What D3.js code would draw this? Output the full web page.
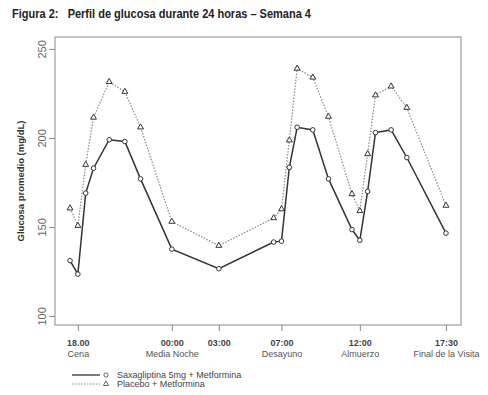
<!DOCTYPE html>
<html>
<head>
<meta charset="utf-8">
<title>Perfil de glucosa durante 24 horas</title>
<style>
  body { margin: 0; background: #fff; }
  svg text { font-family: "Liberation Sans", Arial, sans-serif; }
</style>
</head>
<body>
<script src="https://d3js.org/d3.v7.min.js"></script>
<div id="chart"></div>
<script>
// hours after 18:00
var hours = [-0.5, 0, 0.5, 1, 2, 3, 4, 6, 9, 12.5, 13, 13.5, 14, 15, 16, 17.5, 18, 18.5, 19, 20, 21, 23.5];
var saxa = [131, 123.5, 169, 183, 199, 198, 177, 137.5, 126.5, 141.5, 142, 183.5, 206, 204.5, 177, 148.5, 142.5, 170, 203, 204.5, 189, 146.5];
var placebo = [160.5, 150.7, 185, 211.5, 231.5, 226, 206, 153, 139.5, 155, 160, 198.7, 239, 234, 212, 168.5, 159, 191, 224, 229, 217, 162];

var tickHours = [0, 6, 9, 13, 18, 23.5];
var tickTimes = ["18.00", "00:00", "03:00", "07:00", "12:00", "17:30"];
var tickNames = ["Cena", "Media Noche", "", "Desayuno", "Almuerzo", "Final de la Visita"];
var yTicks = [100, 150, 200, 250];

var seriesNames = ["Saxagliptina 5mg + Metformina", "Placebo + Metformina"];

var width = 488, height = 395;
var box = {left: 55, right: 461, top: 37, bottom: 325};

var svg = d3.select("#chart").append("svg")
  .attr("width", width)
  .attr("height", height);

// title (narrow bold font in the original, so squeeze it)
svg.append("text")
  .attr("x", 12).attr("y", 18)
  .style("font-weight", "bold")
  .style("font-size", "13px")
  .attr("fill", "#222")
  .attr("xml:space", "preserve")
  .attr("textLength", 299)
  .attr("lengthAdjust", "spacingAndGlyphs")
  .text("Figura 2:   Perfil de glucosa durante 24 horas \u2013 Semana 4");

// R style: 4% padding around the data range
var x = d3.scaleLinear().domain([-1.46, 24.46]).range([box.left, box.right]);
var y = d3.scaleLinear().domain([94.9, 256.7]).range([box.bottom, box.top]);

svg.append("rect")
  .attr("x", box.left).attr("y", box.top)
  .attr("width", box.right - box.left).attr("height", box.bottom - box.top)
  .attr("fill", "none").attr("stroke", "#8a8a8a").attr("stroke-width", 1);

// y axis
var yAxis = svg.append("g")
  .attr("transform", "translate(" + box.left + ",0)")
  .call(d3.axisLeft(y).tickValues(yTicks).tickSize(6).tickPadding(0).tickFormat(d3.format("d")));
yAxis.select(".domain").remove();
yAxis.selectAll("line").attr("stroke", "#8a8a8a");
yAxis.selectAll("text").remove();
yAxis.selectAll(".tick").append("text")
  .attr("transform", "translate(-13,0) rotate(-90)")
  .attr("text-anchor", "middle")
  .attr("dy", "0.35em")
  .attr("fill", "#666")
  .style("font-size", "11px")
  .text(function(d) { return d; });

svg.append("text")
  .attr("transform", "translate(24," + ((box.top + box.bottom) / 2) + ") rotate(-90)")
  .attr("text-anchor", "middle")
  .attr("fill", "#333")
  .style("font-size", "9.5px")
  .style("font-weight", "bold")
  .text("Glucosa promedio (mg/dL)");

// x axis
var xAxis = svg.append("g")
  .attr("transform", "translate(0," + box.bottom + ")")
  .call(d3.axisBottom(x).tickValues(tickHours).tickSize(6).tickFormat(""));
xAxis.select(".domain").remove();
xAxis.selectAll("line").attr("stroke", "#8a8a8a");
xAxis.selectAll(".tick").each(function(d, i) {
  var t = d3.select(this);
  t.append("text").attr("y", 21).attr("text-anchor", "middle")
    .attr("fill", "#444").style("font-size", "9px").style("font-weight", "bold")
    .text(tickTimes[i]);
  t.append("text").attr("y", 32).attr("text-anchor", "middle")
    .attr("fill", "#555").style("font-size", "9px")
    .text(tickNames[i]);
});

// lines
var line = function(vals) {
  return d3.line().x(function(d, i) { return x(hours[i]); }).y(function(d) { return y(d); })(vals);
};

svg.append("path").attr("d", line(placebo))
  .attr("fill", "none").attr("stroke", "#888").attr("stroke-width", 1.2)
  .attr("stroke-dasharray", "1.5,1.5");
svg.append("path").attr("d", line(saxa))
  .attr("fill", "none").attr("stroke", "#333").attr("stroke-width", 1.5);

var tri = d3.symbol().type(d3.symbolTriangle).size(15);

svg.selectAll(".tri").data(placebo).enter().append("path")
  .attr("transform", function(d, i) { return "translate(" + x(hours[i]) + "," + y(d) + ")"; })
  .attr("d", tri)
  .attr("fill", "#fff").attr("stroke", "#333").attr("stroke-width", 1);

svg.selectAll(".circ").data(saxa).enter().append("circle")
  .attr("cx", function(d, i) { return x(hours[i]); })
  .attr("cy", function(d) { return y(d); })
  .attr("r", 2.3)
  .attr("fill", "#fff").attr("stroke", "#333").attr("stroke-width", 1);

// legend
var leg = svg.append("g").attr("transform", "translate(72,375)");
leg.append("line").attr("x1", 0).attr("x2", 28).attr("y1", 0).attr("y2", 0)
  .attr("stroke", "#333").attr("stroke-width", 1.3);
leg.append("circle").attr("cx", 34).attr("cy", 0).attr("r", 2.1)
  .attr("fill", "#fff").attr("stroke", "#555").attr("stroke-width", 0.9);
leg.append("line").attr("x1", 0).attr("x2", 28).attr("y1", 9).attr("y2", 9)
  .attr("stroke", "#888").attr("stroke-width", 1).attr("stroke-dasharray", "1.5,1.5");
leg.append("path").attr("transform", "translate(34,9)")
  .attr("d", d3.symbol().type(d3.symbolTriangle).size(12))
  .attr("fill", "#fff").attr("stroke", "#555").attr("stroke-width", 0.9);
leg.selectAll(".lt").data(seriesNames).enter().append("text")
  .attr("x", 45).attr("y", function(d, i) { return i * 9; })
  .attr("dy", "0.35em")
  .attr("fill", "#444").style("font-size", "9px")
  .text(function(d) { return d; });
</script>
</body>
</html>
